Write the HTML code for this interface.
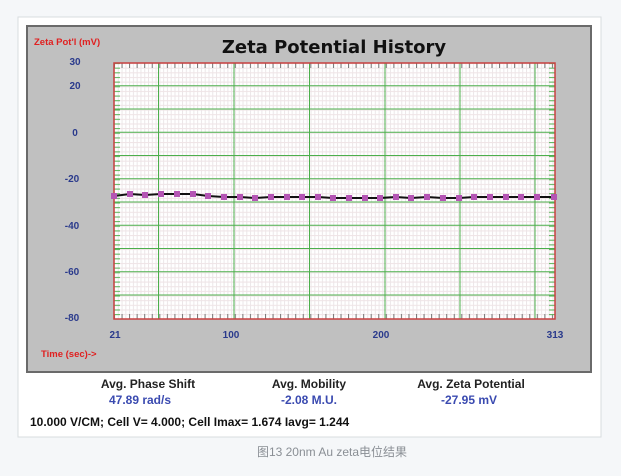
<!DOCTYPE html>
<html><head><meta charset="utf-8"><style>
html,body{margin:0;padding:0;background:#f5f7f9;width:621px;height:476px;overflow:hidden}
svg{display:block}
</style></head><body>
<svg width="621" height="476" xmlns="http://www.w3.org/2000/svg">
<defs>
<pattern id="minv" x="114" y="0" width="3.78" height="476" patternUnits="userSpaceOnUse"><line x1="0.5" y1="0" x2="0.5" y2="476" stroke="#ebe6e8" stroke-width="1"/></pattern>
<pattern id="minh" x="0" y="63" width="621" height="4.65" patternUnits="userSpaceOnUse"><line x1="0" y1="0.5" x2="621" y2="0.5" stroke="#efe4e6" stroke-width="1"/></pattern>
<pattern id="tickx" x="114" y="0" width="7.55" height="476" patternUnits="userSpaceOnUse"><line x1="0.5" y1="0" x2="0.5" y2="476" stroke="#777" stroke-width="1"/></pattern>
<pattern id="ticky" x="0" y="63" width="621" height="4.65" patternUnits="userSpaceOnUse"><line x1="0" y1="0.5" x2="621" y2="0.5" stroke="#5cb85c" stroke-width="1"/></pattern>
</defs>
<rect x="18" y="17" width="583" height="420" fill="#fff" stroke="#d8dcdf"/>
<rect x="27" y="26" width="564" height="346" fill="#c0c0c0" stroke="#6a6a6a" stroke-width="2"/>
<text x="34" y="45" font-family="Liberation Sans,sans-serif" font-size="9.5" font-weight="bold" fill="#e02020">Zeta Pot'l (mV)</text>
<text x="334" y="53" text-anchor="middle" font-family="DejaVu Sans,sans-serif" font-size="18" font-weight="bold" fill="#111">Zeta Potential History</text>
<g font-family="Liberation Sans,sans-serif" font-size="10" font-weight="bold" fill="#2a3a8c" text-anchor="middle">
<text x="75" y="65">30</text><text x="75" y="89">20</text><text x="75" y="136">0</text>
<text x="72" y="182">-20</text><text x="72" y="229">-40</text><text x="72" y="275">-60</text><text x="72" y="321">-80</text>
<text x="115" y="338">21</text><text x="231" y="338">100</text><text x="381" y="338">200</text><text x="555" y="338">313</text>
</g>
<text x="41" y="357" font-family="Liberation Sans,sans-serif" font-size="9.5" font-weight="bold" fill="#e02020">Time (sec)-&gt;</text>
<rect x="114" y="63" width="441" height="256" fill="#fff"/>
<rect x="114" y="63" width="441" height="256" fill="url(#minv)"/>
<rect x="114" y="63" width="441" height="256" fill="url(#minh)"/>
<rect x="114" y="63" width="441" height="5" fill="url(#tickx)"/>
<rect x="114" y="314" width="441" height="5" fill="url(#tickx)"/>
<rect x="114" y="63" width="6" height="256" fill="url(#ticky)"/>
<rect x="549" y="63" width="6" height="256" fill="url(#ticky)"/>
<g stroke="#4caf4c" stroke-width="1">
<line x1="114" y1="85.7" x2="555" y2="85.7"/><line x1="114" y1="109" x2="555" y2="109"/><line x1="114" y1="132.2" x2="555" y2="132.2"/>
<line x1="114" y1="155.5" x2="555" y2="155.5"/><line x1="114" y1="178.7" x2="555" y2="178.7"/><line x1="114" y1="202" x2="555" y2="202"/>
<line x1="114" y1="225.2" x2="555" y2="225.2"/><line x1="114" y1="248.5" x2="555" y2="248.5"/><line x1="114" y1="271.7" x2="555" y2="271.7"/>
<line x1="114" y1="295" x2="555" y2="295"/>
<line x1="158.5" y1="63" x2="158.5" y2="319"/><line x1="234" y1="63" x2="234" y2="319"/><line x1="309.5" y1="63" x2="309.5" y2="319"/>
<line x1="385" y1="63" x2="385" y2="319"/><line x1="460" y1="63" x2="460" y2="319"/><line x1="535" y1="63" x2="535" y2="319"/>
</g>
<rect x="114" y="63" width="441" height="256" fill="none" stroke="#c84040" stroke-width="1.5"/>
<polyline fill="none" stroke="#111" stroke-width="2" points="114,196 130,194 145,195 161,194 177,194 193,194 208,196 224,197 240,197 255,198 271,197 287,197 302,197 318,197 333,198 349,198 365,198 380,198 396,197 411,198 427,197 443,198 459,198 474,197 490,197 506,197 521,197 537,197 554,197"/>
<g fill="#b455b4">
<rect x="111" y="193" width="6" height="6"/><rect x="127" y="191" width="6" height="6"/><rect x="142" y="192" width="6" height="6"/><rect x="158" y="191" width="6" height="6"/><rect x="174" y="191" width="6" height="6"/><rect x="190" y="191" width="6" height="6"/><rect x="205" y="193" width="6" height="6"/><rect x="221" y="194" width="6" height="6"/><rect x="237" y="194" width="6" height="6"/><rect x="252" y="195" width="6" height="6"/><rect x="268" y="194" width="6" height="6"/><rect x="284" y="194" width="6" height="6"/><rect x="299" y="194" width="6" height="6"/><rect x="315" y="194" width="6" height="6"/><rect x="330" y="195" width="6" height="6"/><rect x="346" y="195" width="6" height="6"/><rect x="362" y="195" width="6" height="6"/><rect x="377" y="195" width="6" height="6"/><rect x="393" y="194" width="6" height="6"/><rect x="408" y="195" width="6" height="6"/><rect x="424" y="194" width="6" height="6"/><rect x="440" y="195" width="6" height="6"/><rect x="456" y="195" width="6" height="6"/><rect x="471" y="194" width="6" height="6"/><rect x="487" y="194" width="6" height="6"/><rect x="503" y="194" width="6" height="6"/><rect x="518" y="194" width="6" height="6"/><rect x="534" y="194" width="6" height="6"/><rect x="551" y="194" width="6" height="6"/>
</g>
<g font-family="Liberation Sans,sans-serif" font-size="12" font-weight="bold" text-anchor="middle">
<text x="148" y="388" fill="#222">Avg. Phase Shift</text>
<text x="309" y="388" fill="#222">Avg. Mobility</text>
<text x="471" y="388" fill="#222">Avg. Zeta Potential</text>
<text x="140" y="404" fill="#3a4ab0">47.89 rad/s</text>
<text x="309" y="404" fill="#3a4ab0">-2.08 M.U.</text>
<text x="469" y="404" fill="#3a4ab0">-27.95 mV</text>
</g>
<text x="30" y="426" font-family="Liberation Sans,sans-serif" font-size="12" font-weight="bold" fill="#111">10.000 V/CM; Cell V= 4.000; Cell Imax= 1.674 Iavg= 1.244</text>
<text x="332" y="456" text-anchor="middle" font-family="Liberation Sans,'Noto Sans CJK SC',sans-serif" font-size="12" fill="#8a8f95">图13 20nm Au zeta电位结果</text>
</svg>
</body></html>
